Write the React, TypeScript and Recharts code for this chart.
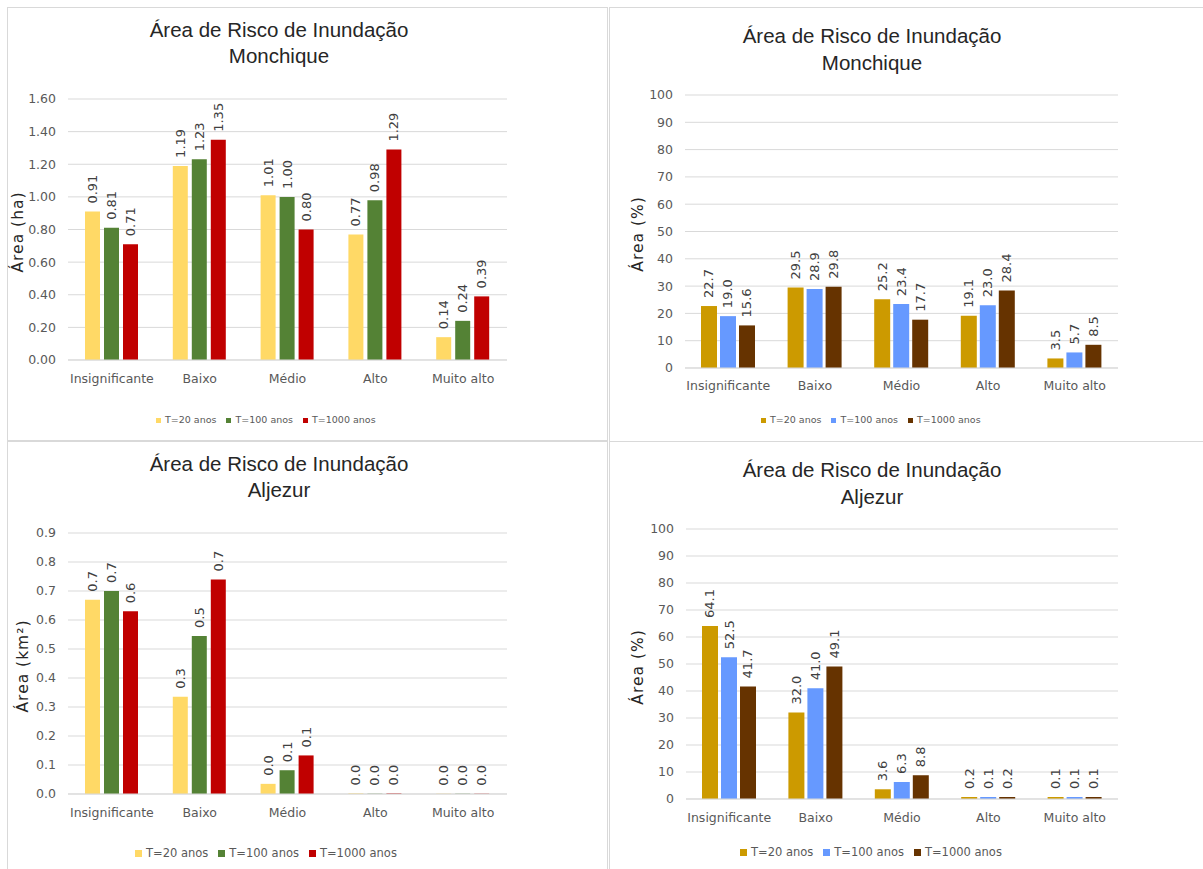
import React from "react";
import { BarChart, Bar, XAxis, YAxis, CartesianGrid, Legend, LabelList } from "recharts";

const categories = ["Insignificante", "Baixo", "Médio", "Alto", "Muito alto"];
const seriesNames = ["T=20 anos", "T=100 anos", "T=1000 anos"];

// Monchique, área (ha)
const monchiqueHaT20 = [0.91, 1.19, 1.01, 0.77, 0.14];
const monchiqueHaT100 = [0.81, 1.23, 1.0, 0.98, 0.24];
const monchiqueHaT1000 = [0.71, 1.35, 0.8, 1.29, 0.39];
const monchiqueHaTicks = [0, 0.2, 0.4, 0.6, 0.8, 1.0, 1.2, 1.4, 1.6];

// Monchique, área (%)
const monchiquePctT20 = [22.7, 29.5, 25.2, 19.1, 3.5];
const monchiquePctT100 = [19.0, 28.9, 23.4, 23.0, 5.7];
const monchiquePctT1000 = [15.6, 29.8, 17.7, 28.4, 8.5];

// Aljezur, área (km²)
const aljezurKmT20 = [0.67, 0.335, 0.035, 0.002, 0.001];
const aljezurKmT100 = [0.7, 0.545, 0.082, 0.001, 0.001];
const aljezurKmT1000 = [0.63, 0.74, 0.133, 0.002, 0.001];
const aljezurKmTicks = [0, 0.1, 0.2, 0.3, 0.4, 0.5, 0.6, 0.7, 0.8, 0.9];

// Aljezur, área (%)
const aljezurPctT20 = [64.1, 32.0, 3.6, 0.2, 0.1];
const aljezurPctT100 = [52.5, 41.0, 6.3, 0.1, 0.1];
const aljezurPctT1000 = [41.7, 49.1, 8.8, 0.2, 0.1];

const pctTicks = [0, 10, 20, 30, 40, 50, 60, 70, 80, 90, 100];

const warmColors = ["#FFD966", "#548235", "#C00000"];
const coolColors = ["#CC9A00", "#6699FF", "#663300"];

const FONT = "DejaVu Sans";

// keys sort in series order so the legend keeps T=20, T=100, T=1000
const keys = ["s1", "s2", "s3"];

const buildRows = (a: number[], b: number[], c: number[]) =>
  categories.map((cat, i) => ({ cat, s1: a[i], s2: b[i], s3: c[i] }));

const rotatedLabel = (decimals: number) => (props: any) => {
  const { x, y, width, value } = props;
  const cx = Number(x) + Number(width) / 2;
  const cy = Number(y) - 8;
  return (
    <text
      x={cx}
      y={cy}
      transform={`rotate(-90 ${cx} ${cy})`}
      textAnchor="start"
      dominantBaseline="central"
      fontSize={13}
      fontFamily={FONT}
      fill="#404040"
    >
      {Number(value).toFixed(decimals)}
    </text>
  );
};

type PanelProps = {
  left: number;
  top: number;
  width: number;
  height: number;
  border: React.CSSProperties;
  place: string;
  titleX: number;
  titleTop: number;
  titleGap: number;
  yLabel: string;
  yLabelX: number;
  yLabelY: number;
  plot: { x0: number; x1: number; y0: number; y1: number };
  rows: any[];
  colors: string[];
  ticks: number[];
  tickDecimals: number;
  labelDecimals: number;
  barSize: number;
  barGap: number;
  minBar: number;
  xTickMargin: number;
  legend: { left: number; top: number; fontSize: number; iconSize: number };
};

const Panel = (p: PanelProps) => {
  const legendH = 16;
  const xAxisH = 30;
  return (
    <div
      style={{
        position: "absolute",
        left: p.left,
        top: p.top,
        width: p.width,
        height: p.height,
        boxSizing: "border-box",
        ...p.border,
      }}
    >
      <div
        style={{
          position: "absolute",
          left: p.titleX - 200,
          top: p.titleTop,
          width: 400,
          textAlign: "center",
          fontFamily: "Liberation Sans",
          fontSize: 20.5,
          lineHeight: `${p.titleGap}px`,
          color: "#262626",
        }}
      >
        <div>Área de Risco de Inundação</div>
        <div>{p.place}</div>
      </div>
      <div
        style={{
          position: "absolute",
          left: p.yLabelX - 100,
          top: p.yLabelY - 10,
          width: 200,
          height: 20,
          lineHeight: "20px",
          textAlign: "center",
          transform: "rotate(-90deg)",
          fontFamily: FONT,
          fontSize: 15.5,
          letterSpacing: 1,
          color: "#262626",
        }}
      >
        {p.yLabel}
      </div>
      <div style={{ position: "absolute", left: 0, top: 0 }}>
        <BarChart
          width={p.width - 2}
          height={p.height - 2}
          data={p.rows}
          barSize={p.barSize}
          barGap={p.barGap}
          margin={{
            top: p.plot.y0,
            right: p.width - 2 - p.plot.x1,
            left: 0,
            bottom: p.height - 2 - p.plot.y1 - xAxisH - legendH,
          }}
        >
          <CartesianGrid vertical={false} stroke="#D9D9D9" />
          <XAxis
            dataKey="cat"
            height={xAxisH}
            tickLine={false}
            axisLine={{ stroke: "#D9D9D9" }}
            tickMargin={p.xTickMargin}
            interval={0}
            tick={{ fill: "#595959", fontSize: 12.5, fontFamily: FONT }}
          />
          <YAxis
            width={p.plot.x0}
            domain={[p.ticks[0], p.ticks[p.ticks.length - 1]]}
            ticks={p.ticks}
            tickFormatter={(v: number) => v.toFixed(p.tickDecimals)}
            axisLine={false}
            tickLine={false}
            tickMargin={6}
            tick={{ fill: "#595959", fontSize: 12.5, fontFamily: FONT }}
          />
          <Legend
            iconType="square"
            iconSize={p.legend.iconSize}
            align="left"
            itemSorter="dataKey"
            wrapperStyle={{
              left: p.legend.left,
              top: p.legend.top,
              width: 400,
              height: legendH,
              fontFamily: FONT,
              fontSize: p.legend.fontSize,
              lineHeight: `${legendH}px`,
            }}
            formatter={(v: string) => <span style={{ color: "#595959" }}>{v}</span>}
          />
          {keys.map((k, i) => (
            <Bar
              key={k}
              dataKey={k}
              name={seriesNames[i]}
              fill={p.colors[i]}
              minPointSize={p.minBar}
              isAnimationActive={false}
            >
              <LabelList dataKey={k} content={rotatedLabel(p.labelDecimals)} />
            </Bar>
          ))}
        </BarChart>
      </div>
    </div>
  );
};

const App = () => {
  const line = "1px solid #D9D9D9";
  return (
    <div
      style={{
        position: "absolute",
        left: 0,
        top: 0,
        width: 1203,
        height: 869,
        background: "#FFFFFF",
        overflow: "hidden",
      }}
    >
      <Panel
        left={7}
        top={7}
        width={601}
        height={434}
        border={{ borderLeft: line, borderTop: line, borderRight: line, borderBottom: line }}
        place="Monchique"
        titleX={271}
        titleTop={9}
        titleGap={26}
        yLabel="Área (ha)"
        yLabelX={10}
        yLabelY={224}
        plot={{ x0: 60, x1: 499, y0: 91, y1: 352 }}
        rows={buildRows(monchiqueHaT20, monchiqueHaT100, monchiqueHaT1000)}
        colors={warmColors}
        ticks={monchiqueHaTicks}
        tickDecimals={2}
        labelDecimals={2}
        barSize={15}
        barGap={4}
        minBar={0}
        xTickMargin={8}
        legend={{ left: 148, top: 404, fontSize: 9.5, iconSize: 5 }}
      />
      <Panel
        left={609}
        top={7}
        width={600}
        height={434}
        border={{ borderLeft: line, borderTop: line }}
        place="Monchique"
        titleX={262}
        titleTop={14}
        titleGap={27}
        yLabel="Área (%)"
        yLabelX={28}
        yLabelY={226}
        plot={{ x0: 75, x1: 508, y0: 87, y1: 360 }}
        rows={buildRows(monchiquePctT20, monchiquePctT100, monchiquePctT1000)}
        colors={coolColors}
        ticks={pctTicks}
        tickDecimals={0}
        labelDecimals={1}
        barSize={16}
        barGap={3}
        minBar={0}
        xTickMargin={7}
        legend={{ left: 151, top: 404, fontSize: 9.5, iconSize: 5 }}
      />
      <Panel
        left={7}
        top={441}
        width={601}
        height={440}
        border={{ borderLeft: line, borderTop: line, borderRight: line }}
        place="Aljezur"
        titleX={271}
        titleTop={9}
        titleGap={26}
        yLabel="Área (km²)"
        yLabelX={15}
        yLabelY={224}
        plot={{ x0: 60, x1: 499, y0: 91, y1: 352 }}
        rows={buildRows(aljezurKmT20, aljezurKmT100, aljezurKmT1000)}
        colors={warmColors}
        ticks={aljezurKmTicks}
        tickDecimals={1}
        labelDecimals={1}
        barSize={15}
        barGap={4}
        minBar={0}
        xTickMargin={8}
        legend={{ left: 127, top: 403, fontSize: 11.5, iconSize: 7 }}
      />
      <Panel
        left={609}
        top={441}
        width={600}
        height={440}
        border={{ borderLeft: line, borderTop: line }}
        place="Aljezur"
        titleX={262}
        titleTop={14}
        titleGap={27}
        yLabel="Área (%)"
        yLabelX={28}
        yLabelY={225}
        plot={{ x0: 76, x1: 508, y0: 87, y1: 357 }}
        rows={buildRows(aljezurPctT20, aljezurPctT100, aljezurPctT1000)}
        colors={coolColors}
        ticks={pctTicks}
        tickDecimals={0}
        labelDecimals={1}
        barSize={16}
        barGap={3}
        minBar={2}
        xTickMargin={8}
        legend={{ left: 130, top: 402, fontSize: 11.5, iconSize: 7 }}
      />
    </div>
  );
};

export default App;
